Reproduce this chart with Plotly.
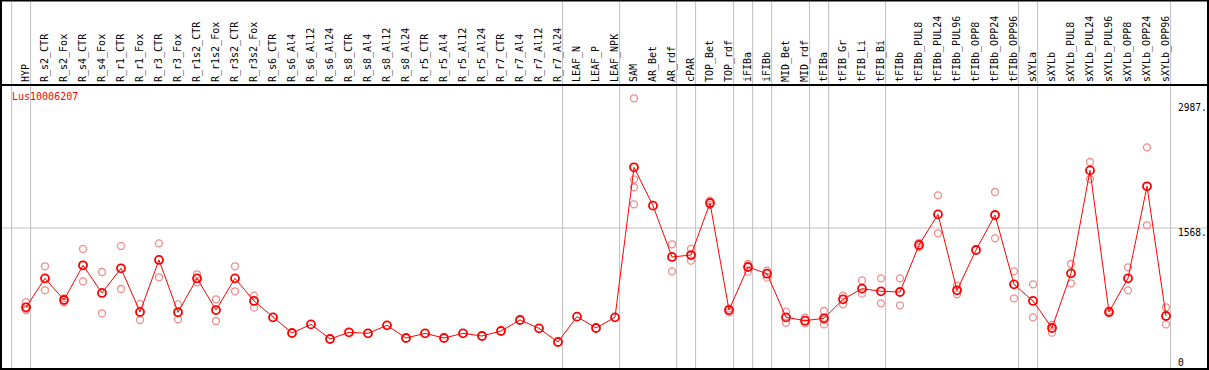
import plotly.graph_objects as go

categories = ["HYP", "R_s2_CTR", "R_s2_Fox", "R_s4_CTR", "R_s4_Fox", "R_r1_CTR", "R_r1_Fox",
              "R_r3_CTR", "R_r3_Fox", "R_r1s2_CTR", "R_r1s2_Fox", "R_r3s2_CTR", "R_r3s2_Fox",
              "R_s6_CTR", "R_s6_Al4", "R_s6_Al12", "R_s6_Al24", "R_s8_CTR", "R_s8_Al4", "R_s8_Al12",
              "R_s8_Al24", "R_r5_CTR", "R_r5_Al4", "R_r5_Al12", "R_r5_Al24", "R_r7_CTR", "R_r7_Al4",
              "R_r7_Al12", "R_r7_Al24", "LEAF_N", "LEAF_P", "LEAF_NPK", "SAM", "AR_Bet", "AR_rdf",
              "cPAR", "TOP_Bet", "TOP_rdf", "iFIBa", "iFIBb", "MID_Bet", "MID_rdf", "tFIBa",
              "tFIB_Gr", "tFIB_Li", "tFIB_Bi", "tFIBb", "tFIBb_PUL8", "tFIBb_PUL24", "tFIBb_PUL96",
              "tFIBb_OPP8", "tFIBb_OPP24", "tFIBb_OPP96", "sXYLa", "sXYLb", "sXYLb_PUL8",
              "sXYLb_PUL24", "sXYLb_PUL96", "sXYLb_OPP8", "sXYLb_OPP24", "sXYLb_OPP96"]

group_sizes = [1, 28, 3, 3, 1, 2, 1, 1, 2, 1, 3, 7, 1, 7]

means = [667, 996, 750, 1144, 830, 1110, 614, 1205, 610, 996, 636, 996, 739, 553, 375, 473,
         307, 383, 371, 462, 318, 371, 318, 371, 341, 398, 523, 428, 273, 561, 432, 553, 2258,
         1822, 1239, 1261, 1852, 636, 1125, 1049, 553, 515, 542, 758, 879, 849, 841, 1375, 1723,
         860, 1318, 1716, 928, 739, 432, 1053, 2223, 614, 996, 2042, 568]

replicates = [[724, 641, 636], [1133, 860], [724, 769], [1330, 962], [1068, 599], [1364, 875],
              [705, 523], [1394, 1008], [701, 530], [1042, 951], [758, 511], [1133, 849],
              [799, 663], [], [], [], [], [], [], [], [], [], [], [], [], [], [], [], [], [], [],
              [], [3042, 2121, 2031, 1837], [], [1383, 1076], [1330, 1197], [1880, 1830],
              [655, 610], [1159, 1072], [1083, 1004], [617, 492], [549, 485], [625, 527, 473],
              [799, 701], [974, 822], [996, 712], [996, 689], [1398, 1352], [1939, 1508],
              [913, 814], [], [1977, 1451], [1076, 769], [928, 553], [466, 379], [1159, 940],
              [2318, 2125], [630, 598], [1121, 860], [2485, 1599], [667, 473]]

y_ticks = [2987, 1568, 0]
gene_name = "Lus10006207"

W, H = 1209, 370
TOP = 86
PX0, STEP = 26, 19            # pixel of first category, pixels per category
Y0PX, PXPER = 366, 0.0880     # pixel of value 0, pixels per unit

plot_h = H - TOP
xr = [-PX0 / STEP, (W - PX0) / STEP]
yr = [(Y0PX - H) / PXPER, (Y0PX - TOP) / PXPER]

rep_x, rep_y = [], []
for c, reps in zip(categories, replicates):
    for v in reps:
        rep_x.append(c)
        rep_y.append(v)

fig = go.Figure()
fig.add_trace(go.Scatter(x=rep_x, y=rep_y, mode="markers",
                         marker=dict(symbol="circle-open", size=7, color="rgb(240,140,140)",
                                     line=dict(width=1.3, color="rgb(240,140,140)")),
                         showlegend=False, hoverinfo="skip"))
fig.add_trace(go.Scatter(x=categories, y=means, mode="lines+markers",
                         line=dict(color="#ff0000", width=1),
                         marker=dict(symbol="circle-open", size=8, color="#ff0000",
                                     line=dict(width=1.8, color="#ff0000")),
                         showlegend=False))

shapes = []
ytop_paper = 1 + TOP / plot_h
pos = -1
bounds = [pos]
for g in group_sizes:
    pos += g
    bounds.append(pos)
for b in bounds:
    shapes.append(dict(type="line", xref="x", yref="paper", x0=b + 4.6 / STEP, x1=b + 4.6 / STEP,
                       y0=0, y1=ytop_paper, line=dict(color="#c0c0c0", width=1), layer="below"))
shapes.append(dict(type="line", xref="paper", yref="y", x0=0, x1=1, y0=y_ticks[1], y1=y_ticks[1],
                   line=dict(color="#c0c0c0", width=1), layer="below"))
shapes.append(dict(type="rect", xref="paper", yref="paper", x0=1 / W, x1=(W - 1) / W,
                   y0=1 / plot_h, y1=(plot_h + TOP - 0.5) / plot_h,
                   line=dict(color="black", width=2), fillcolor="rgba(0,0,0,0)"))

annotations = [dict(text=gene_name, xref="paper", yref="paper", x=10 / W, y=(H - 97) / plot_h,
                    xanchor="left", yanchor="middle", showarrow=False,
                    font=dict(family="DejaVu Sans Mono", size=10, color="#ff0000"))]
for v in y_ticks:
    label = str(v) + "." if v else str(v)
    annotations.append(dict(text=label, xref="paper", yref="y", x=1176 / W, y=v,
                            xanchor="left", yanchor="middle", showarrow=False,
                            yshift=4 if v == 0 else -4,
                            font=dict(family="DejaVu Sans Mono", size=9.6, color="black")))

fig.update_layout(
    width=W, height=H,
    margin=dict(l=0, r=0, t=TOP, b=0, pad=0),
    paper_bgcolor="white", plot_bgcolor="white",
    shapes=shapes, annotations=annotations,
    xaxis=dict(type="category", categoryorder="array", categoryarray=categories,
               range=xr, side="top", tickangle=-90, ticks="", showgrid=False, zeroline=False,
               showline=True, linecolor="black", linewidth=2,
               tickfont=dict(family="DejaVu Sans Mono", size=10, color="black"),
               fixedrange=True),
    yaxis=dict(range=yr, showticklabels=False, showgrid=False, zeroline=False,
               showline=False, fixedrange=True),
)

fig.write_html("out.html", config={"displayModeBar": False},
               post_script="document.body.style.margin='0';document.body.style.overflow='hidden';")
